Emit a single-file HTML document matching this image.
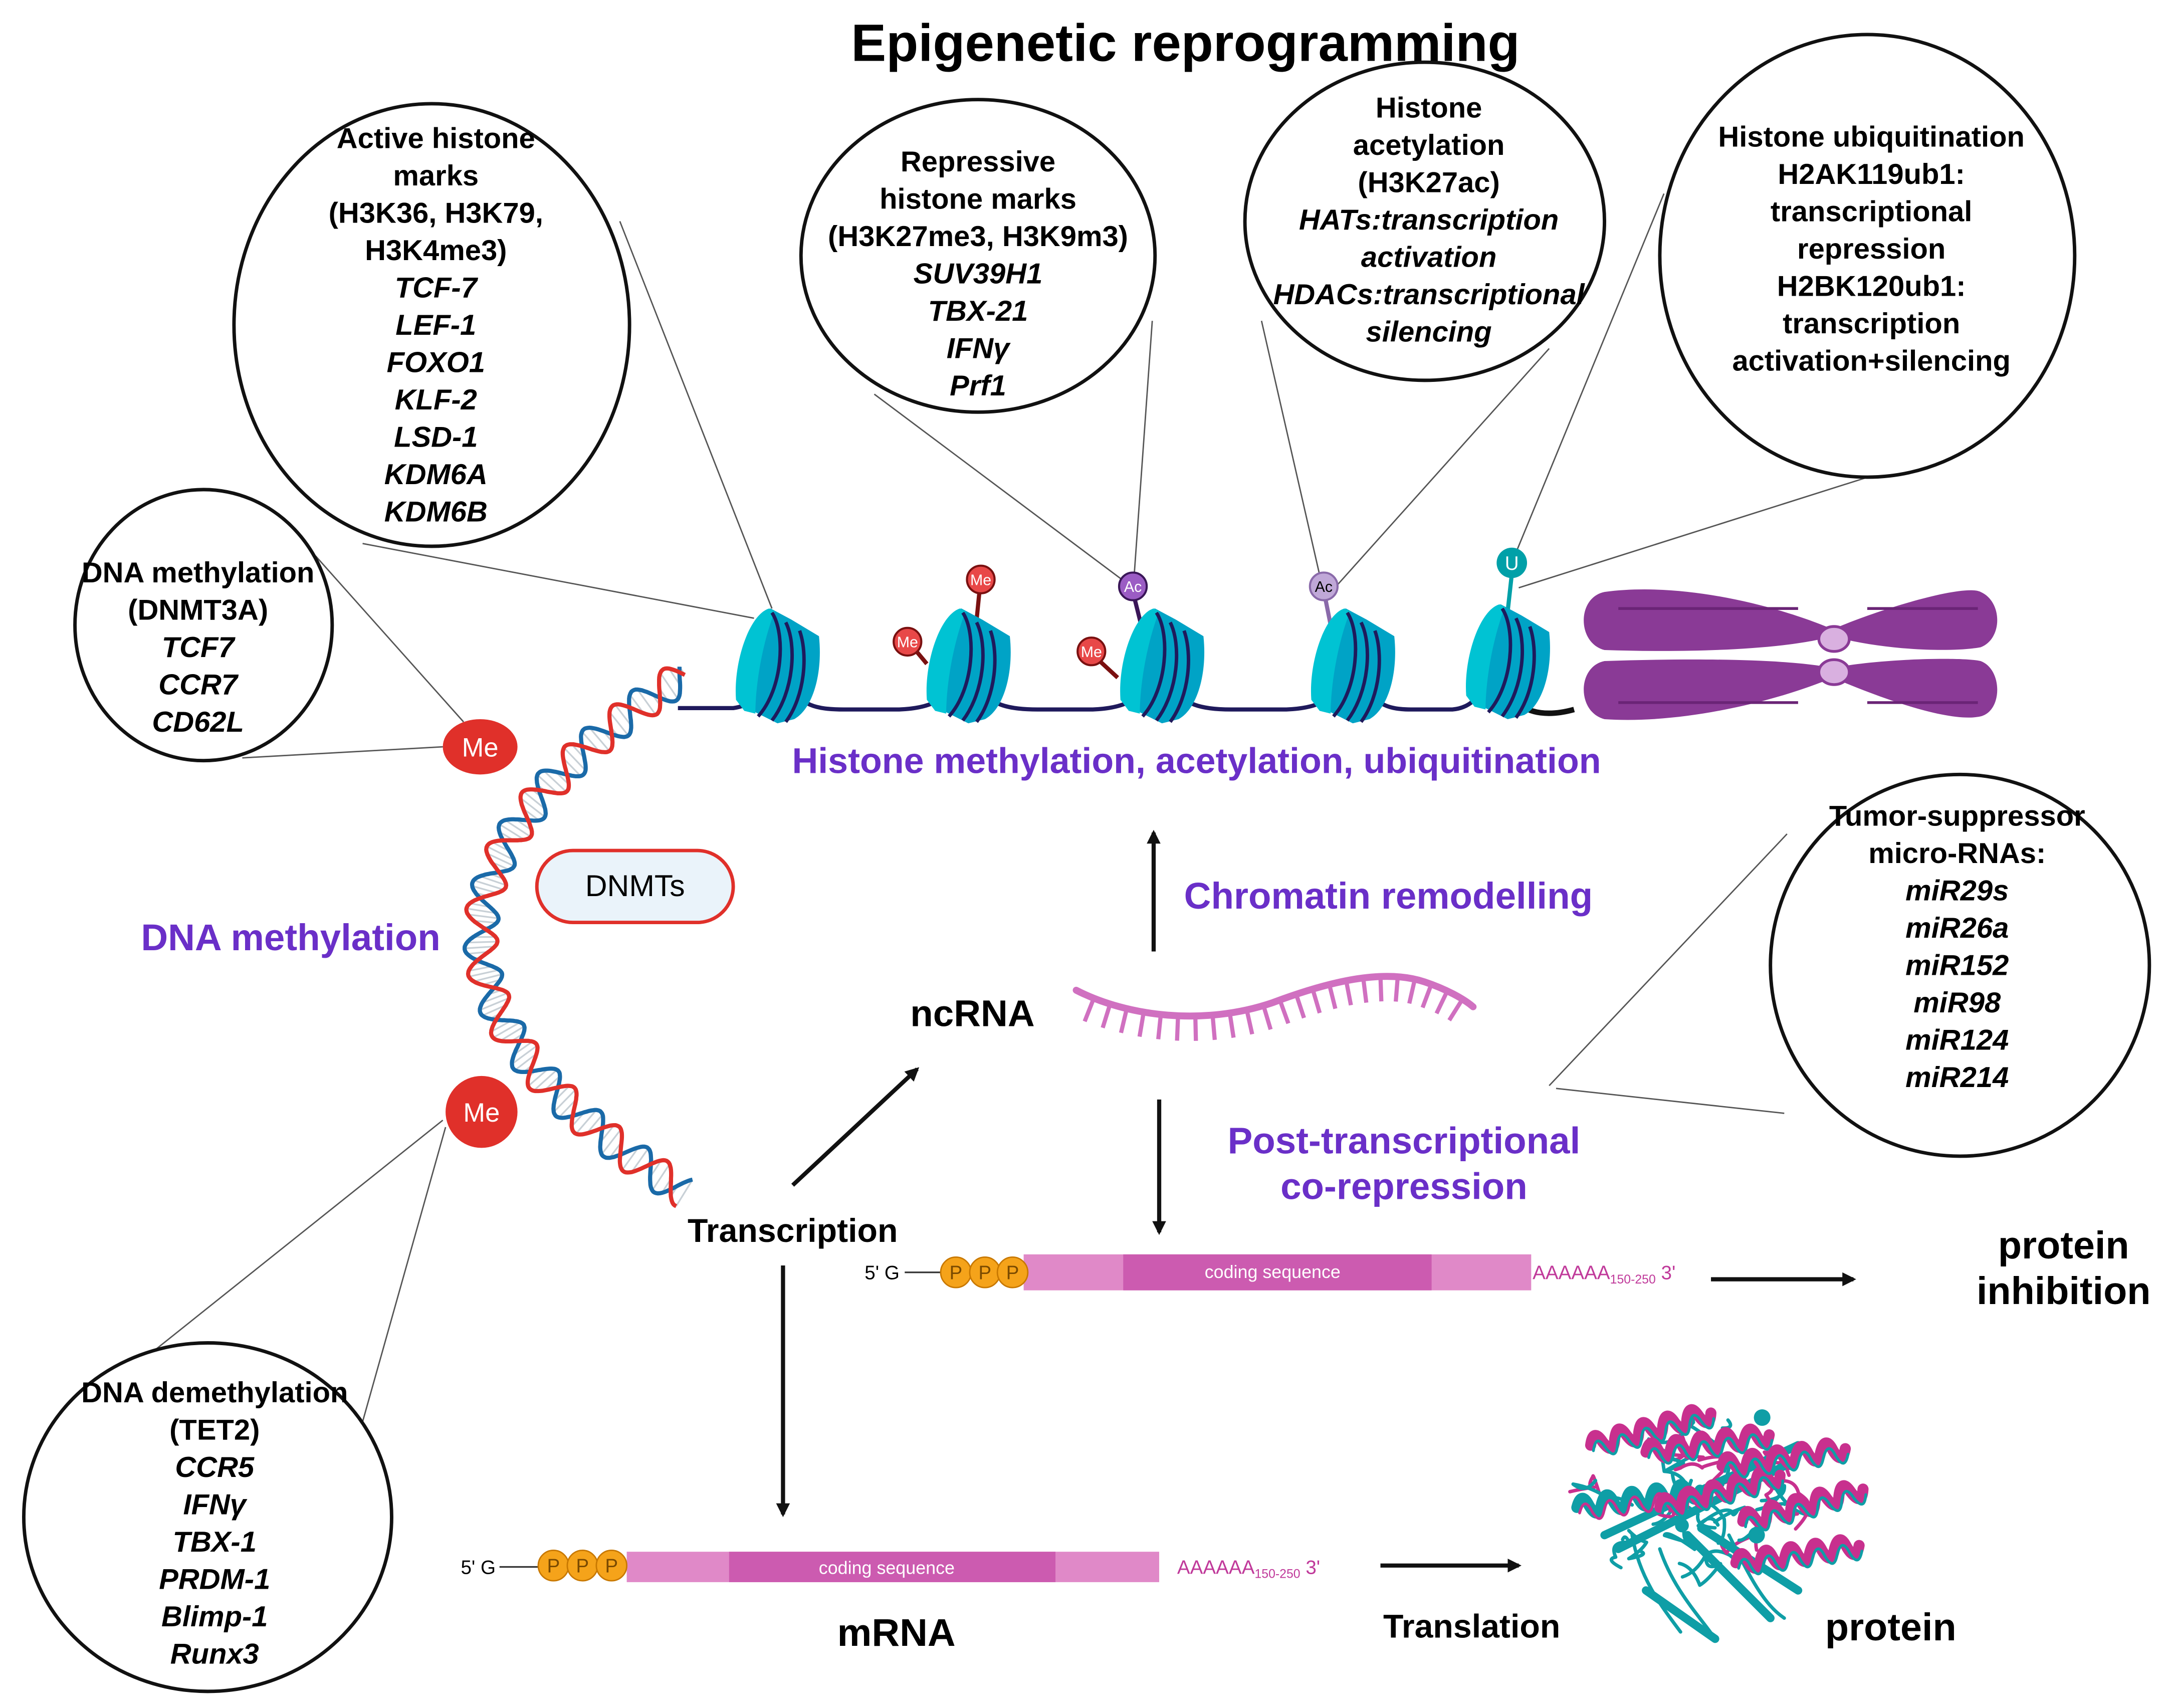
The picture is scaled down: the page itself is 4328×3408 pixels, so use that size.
<!DOCTYPE html>
<html><head><meta charset="utf-8">
<style>
html,body{margin:0;padding:0;background:#fff;}
svg{display:block;}
text{font-family:"Liberation Sans",sans-serif;}
.b{font-weight:bold;}
.c{font-weight:bold;font-size:21px;text-anchor:middle;fill:#000;}
.i{font-style:italic;}
.p{fill:#6a2fc8;font-weight:bold;}
.ln{stroke:#555;stroke-width:1;fill:none;}
</style></head>
<body>
<svg id="s" xmlns="http://www.w3.org/2000/svg" width="4328" height="3408" viewBox="0 0 1568 1235">
<defs>
<marker id="ah" markerWidth="10" markerHeight="10" refX="8" refY="5" orient="auto" markerUnits="userSpaceOnUse"><path d="M0,0 L10,5 L0,10 z" fill="#111"/></marker>
<g id="nuc">
  <path d="M-28,28 C-30,0 -18,-35 -5,-38 L10,-30 L30,-18 C33,10 25,35 12,42 L0,45 L-20,35 z" fill="#00a3c6"/>
  <path d="M-30,28 C-32,0 -20,-34 -6,-38 L-2,-36 C-12,-10 -16,20 -16,38 L-24,36 z" fill="#00c3d3"/>
  <path d="M-4,-35 C6,-20 4,20 -14,40" stroke="#1f1a5c" stroke-width="2.5" fill="none"/>
  <path d="M6,-28 C14,-12 12,22 -4,43" stroke="#1f1a5c" stroke-width="2.5" fill="none"/>
  <path d="M16,-22 C22,-5 20,25 6,44" stroke="#1f1a5c" stroke-width="2.5" fill="none"/>
</g>
</defs>
<rect width="1568" height="1235" fill="#fff"/>

<!-- callout lines -->
<g class="ln">
<line x1="448" y1="160" x2="558" y2="440"/><line x1="262" y1="393" x2="545" y2="447"/>
<line x1="632" y1="285" x2="815" y2="422"/><line x1="833" y1="232" x2="820" y2="415"/>
<line x1="912" y1="232" x2="955" y2="420"/><line x1="1120" y1="252" x2="965" y2="425"/>
<line x1="1203" y1="140" x2="1095" y2="402"/><line x1="1382" y1="335" x2="1098" y2="425"/>
<line x1="228" y1="402" x2="335" y2="522"/><line x1="175" y1="548" x2="320" y2="540"/>
<line x1="1292" y1="603" x2="1120" y2="785"/><line x1="1290" y1="805" x2="1125" y2="787"/>
<line x1="92" y1="992" x2="320" y2="810"/><line x1="262" y1="1028" x2="322" y2="815"/>
</g>

<!-- callout ellipses -->
<g fill="#fff" stroke="#111" stroke-width="2.5">
<ellipse cx="312" cy="235" rx="143" ry="160"/>
<ellipse cx="707" cy="185" rx="128" ry="113"/>
<ellipse cx="1030" cy="160" rx="130" ry="115"/>
<ellipse cx="1350" cy="185" rx="150" ry="160"/>
<ellipse cx="147" cy="452" rx="93" ry="98"/>
<ellipse cx="1417" cy="698" rx="137" ry="138"/>
<ellipse cx="150" cy="1097" rx="133" ry="126"/>
</g>

<text x="857" y="44" class="b" font-size="38" text-anchor="middle">Epigenetic reprogramming</text>

<g class="c">
<text x="315" y="107">Active histone</text><text x="315" y="134">marks</text><text x="315" y="161">(H3K36, H3K79,</text><text x="315" y="188">H3K4me3)</text>
<g class="i"><text x="315" y="215">TCF-7</text><text x="315" y="242">LEF-1</text><text x="315" y="269">FOXO1</text><text x="315" y="296">KLF-2</text><text x="315" y="323">LSD-1</text><text x="315" y="350">KDM6A</text><text x="315" y="377">KDM6B</text></g>

<text x="707" y="124">Repressive</text><text x="707" y="151">histone marks</text><text x="707" y="178">(H3K27me3, H3K9m3)</text>
<g class="i"><text x="707" y="205">SUV39H1</text><text x="707" y="232">TBX-21</text><text x="707" y="259">IFNγ</text><text x="707" y="286">Prf1</text></g>

<text x="1033" y="85">Histone</text><text x="1033" y="112">acetylation</text><text x="1033" y="139">(H3K27ac)</text>
<g class="i"><text x="1033" y="166">HATs:transcription</text><text x="1033" y="193">activation</text><text x="1033" y="220">HDACs:transcriptional</text><text x="1033" y="247">silencing</text></g>

<text x="1353" y="106">Histone ubiquitination</text><text x="1353" y="133">H2AK119ub1:</text><text x="1353" y="160">transcriptional</text><text x="1353" y="187">repression</text><text x="1353" y="214">H2BK120ub1:</text><text x="1353" y="241">transcription</text><text x="1353" y="268">activation+silencing</text>

<text x="143" y="421">DNA methylation</text><text x="143" y="448">(DNMT3A)</text>
<g class="i"><text x="143" y="475">TCF7</text><text x="143" y="502">CCR7</text><text x="143" y="529">CD62L</text></g>

<text x="1415" y="597">Tumor-suppressor</text><text x="1415" y="624">micro-RNAs:</text>
<g class="i"><text x="1415" y="651">miR29s</text><text x="1415" y="678">miR26a</text><text x="1415" y="705">miR152</text><text x="1415" y="732">miR98</text><text x="1415" y="759">miR124</text><text x="1415" y="786">miR214</text></g>

<text x="155" y="1014">DNA demethylation</text><text x="155" y="1041">(TET2)</text>
<g class="i"><text x="155" y="1068">CCR5</text><text x="155" y="1095">IFNγ</text><text x="155" y="1122">TBX-1</text><text x="155" y="1149">PRDM-1</text><text x="155" y="1176">Blimp-1</text><text x="155" y="1203">Runx3</text></g>
</g>

<!-- chromatin fiber -->
<path d="M490,512 L530,512 C545,510 552,500 555,490 M572,495 C578,510 590,513 610,513 L650,513 C675,512 685,505 690,490 M708,495 C714,510 730,513 750,513 L790,513 C815,512 825,505 830,490 M848,495 C854,510 870,513 890,513 L930,513 C955,512 965,505 970,490 M988,495 C994,510 1005,513 1020,513 L1050,513 C1062,512 1070,505 1075,490" stroke="#1f1a5c" stroke-width="3" fill="none"/>
<path d="M1098,508 C1105,516 1120,518 1138,513" stroke="#111" stroke-width="4" fill="none"/>

<g stroke-width="3" fill="none">
<line x1="708" y1="428" x2="706" y2="448" stroke="#7a1010"/>
<line x1="660" y1="468" x2="670" y2="480" stroke="#7a1010"/>
<line x1="795" y1="478" x2="808" y2="490" stroke="#7a1010"/>
<line x1="820" y1="432" x2="825" y2="452" stroke="#3a1658"/>
<line x1="958" y1="432" x2="962" y2="452" stroke="#8a6aaa"/>
<line x1="1093" y1="415" x2="1090" y2="442" stroke="#00a0a8"/>
</g>

<use href="#nuc" x="562" y="478"/>
<use href="#nuc" x="700" y="478"/>
<use href="#nuc" x="840" y="478"/>
<use href="#nuc" x="978" y="478"/>
<use href="#nuc" x="1090" y="475"/>

<g font-size="11" text-anchor="middle">
<ellipse cx="709" cy="419" rx="10" ry="10" fill="#e84848" stroke="#7a1010" stroke-width="1.5"/><text x="709" y="423" fill="#fff">Me</text>
<ellipse cx="656" cy="464" rx="10" ry="10" fill="#e84848" stroke="#7a1010" stroke-width="1.5"/><text x="656" y="468" fill="#fff">Me</text>
<ellipse cx="789" cy="471" rx="10" ry="10" fill="#e84848" stroke="#7a1010" stroke-width="1.5"/><text x="789" y="475" fill="#fff">Me</text>
<ellipse cx="819" cy="424" rx="10" ry="10" fill="#9b5cc4" stroke="#3a1658" stroke-width="1.5"/><text x="819" y="428" fill="#fff">Ac</text>
<ellipse cx="957" cy="424" rx="10" ry="10" fill="#c0a8d8" stroke="#8a6aaa" stroke-width="1.5"/><text x="957" y="428" fill="#000">Ac</text>
<ellipse cx="1093" cy="407" rx="11" ry="11" fill="#00a0a8"/><text x="1093" y="412" fill="#fff" font-size="14">U</text>
</g>

<!-- chromosome -->
<g fill="#8a3a96">
<path d="M1160,428 C1220,420 1290,440 1325,455 C1360,440 1420,422 1432,428 C1448,435 1448,462 1432,468 C1410,472 1360,470 1325,460 C1290,470 1220,472 1160,470 C1140,465 1140,432 1160,428 z"/>
<path d="M1160,478 C1220,476 1290,476 1325,483 C1360,476 1420,475 1432,478 C1448,484 1448,514 1432,518 C1410,523 1360,505 1325,490 C1290,505 1220,524 1160,520 C1140,515 1140,482 1160,478 z"/>
<g fill="none" stroke="#6a2476" stroke-width="2"><path d="M1170,440 H1300"/><path d="M1350,440 H1430"/><path d="M1170,508 H1300"/><path d="M1350,508 H1430"/></g>
<ellipse cx="1326" cy="462" rx="11" ry="9" fill="#d9b0e0" stroke="#8a3a96" stroke-width="2"/>
<ellipse cx="1326" cy="486" rx="11" ry="9" fill="#d9b0e0" stroke="#8a3a96" stroke-width="2"/>
</g>

<text x="865" y="559" class="p" font-size="26" text-anchor="middle">Histone methylation, acetylation, ubiquitination</text>
<text x="856" y="657" class="p" font-size="27">Chromatin remodelling</text>
<text x="210" y="687" class="p" font-size="27" text-anchor="middle">DNA methylation</text>
<text x="1015" y="834" class="p" font-size="27" text-anchor="middle">Post-transcriptional</text>
<text x="1015" y="867" class="p" font-size="27" text-anchor="middle">co-repression</text>

<g id="helix"></g>

<ellipse cx="347" cy="540" rx="27" ry="20" fill="#e0302a"/><text x="347" y="547" fill="#fff" font-size="19" text-anchor="middle">Me</text>
<circle cx="348" cy="804" r="26" fill="#e0302a"/><text x="348" y="811" fill="#fff" font-size="19" text-anchor="middle">Me</text>

<rect x="388" y="615" width="142" height="52" rx="26" fill="#eaf3fa" stroke="#e0302a" stroke-width="2.5"/>
<text x="459" y="648" font-size="22" text-anchor="middle">DNMTs</text>

<g id="nc"></g>
<text x="703" y="742" class="b" font-size="27" text-anchor="middle">ncRNA</text>

<g stroke="#111" stroke-width="3" marker-end="url(#ah)">
<line x1="834" y1="688" x2="834" y2="602"/>
<line x1="838" y1="795" x2="838" y2="891"/>
<line x1="573" y1="857" x2="663" y2="773"/>
<line x1="566" y1="915" x2="566" y2="1095"/>
<line x1="1237" y1="925" x2="1340" y2="925"/>
<line x1="998" y1="1132" x2="1098" y2="1132"/>
</g>

<text x="573" y="898" class="b" font-size="24" text-anchor="middle">Transcription</text>
<text x="1492" y="910" class="b" font-size="28" text-anchor="middle">protein</text>
<text x="1492" y="943" class="b" font-size="28" text-anchor="middle">inhibition</text>
<text x="648" y="1190" class="b" font-size="28" text-anchor="middle">mRNA</text>
<text x="1064" y="1184" class="b" font-size="24" text-anchor="middle">Translation</text>
<text x="1367" y="1186" class="b" font-size="28" text-anchor="middle">protein</text>

<text x="625" y="925" font-size="14">5' G</text>
<line x1="654" y1="920" x2="682" y2="920" stroke="#333" stroke-width="1.2"/>
<rect x="740" y="907" width="367" height="26" fill="#e089c8"/>
<rect x="812" y="907" width="223" height="26" fill="#cc5bb0"/>
<text x="920" y="924" font-size="13" fill="#fff" text-anchor="middle">coding sequence</text>
<g fill="#f5a31a" stroke="#c87800"><circle cx="691" cy="920" r="11"/><circle cx="712" cy="920" r="11"/><circle cx="732" cy="920" r="11"/></g>
<g font-size="14" fill="#7a4a00" text-anchor="middle"><text x="691" y="925">P</text><text x="712" y="925">P</text><text x="732" y="925">P</text></g>
<text x="1108" y="925" font-size="14" fill="#c0399a">AAAAAA<tspan font-size="9" dy="3">150-250</tspan><tspan dy="-3"> 3'</tspan></text>

<text x="333" y="1138" font-size="14">5' G</text>
<line x1="361" y1="1133" x2="392" y2="1133" stroke="#333" stroke-width="1.2"/>
<rect x="453" y="1122" width="385" height="22" fill="#e089c8"/>
<rect x="527" y="1122" width="236" height="22" fill="#cc5bb0"/>
<text x="641" y="1138" font-size="13" fill="#fff" text-anchor="middle">coding sequence</text>
<g fill="#f5a31a" stroke="#c87800"><circle cx="400" cy="1132" r="11"/><circle cx="421" cy="1132" r="11"/><circle cx="442" cy="1132" r="11"/></g>
<g font-size="14" fill="#7a4a00" text-anchor="middle"><text x="400" y="1137">P</text><text x="421" y="1137">P</text><text x="442" y="1137">P</text></g>
<text x="851" y="1138" font-size="14" fill="#c0399a">AAAAAA<tspan font-size="9" dy="3">150-250</tspan><tspan dy="-3"> 3'</tspan></text>

<g id="prot" fill="none" stroke-linecap="round" stroke-linejoin="round"></g>
</svg>
<script>
var NS="http://www.w3.org/2000/svg";
function el(p,t,a){var e=document.createElementNS(NS,t);for(var k in a)e.setAttribute(k,a[k]);p.appendChild(e);return e;}
(function(){
var g=document.getElementById('helix');
var P0=[495,488],P1=[200,680],P2=[495,862];
function B(t){var u=1-t;return [u*u*P0[0]+2*u*t*P1[0]+t*t*P2[0],u*u*P0[1]+2*u*t*P1[1]+t*t*P2[1]];}
function D(t){var u=1-t;return [2*u*(P1[0]-P0[0])+2*t*(P2[0]-P1[0]),2*u*(P1[1]-P0[1])+2*t*(P2[1]-P1[1])];}
var N=600,len=0,prev=B(0),pts=[];
for(var i=0;i<=N;i++){var t=i/N,p=B(t);len+=Math.hypot(p[0]-prev[0],p[1]-prev[1]);prev=p;var d=D(t),m=Math.hypot(d[0],d[1]);pts.push({p:p,n:[-d[1]/m,d[0]/m],s:len});}
var A=12,per=44,r="",b="";
for(var i=0;i<pts.length;i++){var q=pts[i],ph=2*Math.PI*q.s/per;
var o1=A*Math.sin(ph),o2=A*Math.sin(ph+Math.PI*0.8);
if(i%6==0){el(g,'line',{x1:q.p[0]+q.n[0]*o1,y1:q.p[1]+q.n[1]*o1,x2:q.p[0]+q.n[0]*o2,y2:q.p[1]+q.n[1]*o2,stroke:'#c8d0d6','stroke-width':1.2});}
r+=(i?'L':'M')+(q.p[0]+q.n[0]*o1).toFixed(1)+','+(q.p[1]+q.n[1]*o1).toFixed(1);
b+=(i?'L':'M')+(q.p[0]+q.n[0]*o2).toFixed(1)+','+(q.p[1]+q.n[1]*o2).toFixed(1);}
el(g,'path',{d:b,stroke:'#1a6aa8','stroke-width':3,fill:'none'});
el(g,'path',{d:r,stroke:'#e0302a','stroke-width':3,fill:'none'});
})();
(function(){
var g=document.getElementById('nc');
var d="M778,716 C815,735 870,742 920,725 C960,710 1000,700 1030,710 C1045,715 1058,722 1065,728";
var p=el(g,'path',{d:d,stroke:'#d070c0','stroke-width':5,fill:'none','stroke-linecap':'round'});
var L=p.getTotalLength();
for(var s=14;s<L-6;s+=12.5){var a=p.getPointAtLength(s),b=p.getPointAtLength(s+1);var dx=b.x-a.x,dy=b.y-a.y,m=Math.hypot(dx,dy);
var nx=-dy/m,ny=dx/m;el(g,'line',{x1:a.x,y1:a.y,x2:a.x+nx*18,y2:a.y+ny*18,stroke:'#d070c0','stroke-width':3});}
})();
(function(){
var g=document.getElementById('prot');var seed=11;function R(){seed=(seed*16807)%2147483647;return seed/2147483647;}
function inside(x,y){var dx=(x-1222)/88,dy=(y-1085)/62;return dx*dx+dy*dy<1;}
// loops
for(var k=0;k<26;k++){var x,y;do{x=1135+R()*175;y=1025+R()*120;}while(!inside(x,y));var d='M'+x.toFixed(1)+','+y.toFixed(1);
for(var j=0;j<3;j++){var nx,ny,c=0;do{nx=x+(R()-0.5)*50;ny=y+(R()-0.5)*36;c++;}while(!inside(nx,ny)&&c<20);
d+=' Q'+((x+nx)/2+(R()-0.5)*20).toFixed(1)+','+((y+ny)/2+(R()-0.5)*20).toFixed(1)+' '+nx.toFixed(1)+','+ny.toFixed(1);x=nx;y=ny;}
el(g,'path',{d:d,stroke:(k%3==0?'#c8308e':'#0f9ea6'),'stroke-width':2.5});}
// lower loops
el(g,'path',{d:"M1200,1120 C1210,1150 1230,1170 1240,1185 M1250,1110 C1265,1140 1275,1160 1290,1170 M1180,1110 C1185,1140 1200,1160 1215,1180",stroke:'#0f9ea6','stroke-width':2.5});
// beta strands
var st=[[1160,1110,1300,1045],[1170,1120,1290,1060],[1220,1110,1280,1170],[1230,1105,1300,1150],[1190,1150,1240,1185]];
st.forEach(function(s){el(g,'line',{x1:s[0],y1:s[1],x2:s[2],y2:s[3],stroke:'#0f9ea6','stroke-width':6});});
// helices
var hx=[[1150,1045,1,'#c8308e'],[1190,1050,0,'#c8308e'],[1140,1090,0,'#0f9ea6'],[1200,1090,1,'#c8308e'],[1245,1060,0,'#c8308e'],[1260,1100,1,'#c8308e'],[1255,1130,0,'#c8308e']];
hx.forEach(function(h){var d='M'+h[0]+','+h[1];for(var j=0;j<5;j++){d+=' q5,-12 9,0 q5,12 9,0';}
el(g,'path',{d:d,stroke:h[3],'stroke-width':8,transform:'rotate('+(h[2]?-15:-8)+' '+h[0]+' '+h[1]+')'});
el(g,'path',{d:d,stroke:h[3]=='#c8308e'?'#0f9ea6':'#c8308e','stroke-width':2,transform:'translate(2,4) rotate('+(h[2]?-15:-8)+' '+h[0]+' '+h[1]+')'});});
el(g,'circle',{cx:1274,cy:1025,r:6,fill:'#0f9ea6'});
el(g,'circle',{cx:1216,cy:1103,r:5,fill:'#0f9ea6'});
el(g,'circle',{cx:1270,cy:1110,r:6,fill:'#0f9ea6'});
})();
</script>
</body></html>
